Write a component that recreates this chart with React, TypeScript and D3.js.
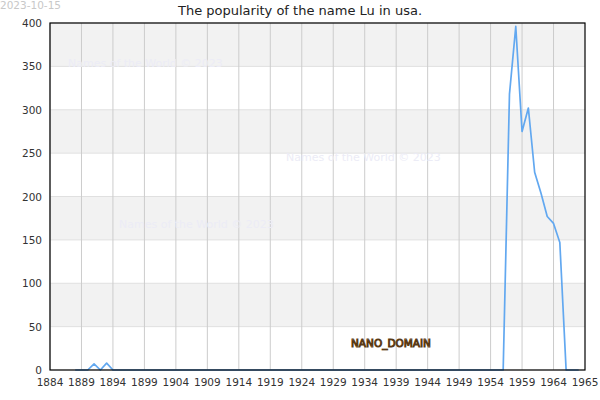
import * as d3 from "d3";

// Years 1888..1968, one value per year
const years: number[] = [
  1888, 1889, 1890, 1891, 1892, 1893, 1894, 1895, 1896, 1897, 1898, 1899,
  1900, 1901, 1902, 1903, 1904, 1905, 1906, 1907, 1908, 1909, 1910, 1911,
  1912, 1913, 1914, 1915, 1916, 1917, 1918, 1919, 1920, 1921, 1922, 1923,
  1924, 1925, 1926, 1927, 1928, 1929, 1930, 1931, 1932, 1933, 1934, 1935,
  1936, 1937, 1938, 1939, 1940, 1941, 1942, 1943, 1944, 1945, 1946, 1947,
  1948, 1949, 1950, 1951, 1952, 1953, 1954, 1955, 1956, 1957, 1958, 1959,
  1960, 1961, 1962, 1963, 1964, 1965, 1966, 1967, 1968,
];
const counts: number[] = [
  0, 0, 0, 7, 0, 8, 0, 0, 0, 0, 0, 0,
  0, 0, 0, 0, 0, 0, 0, 0, 0, 0, 0, 0,
  0, 0, 0, 0, 0, 0, 0, 0, 0, 0, 0, 0,
  0, 0, 0, 0, 0, 0, 0, 0, 0, 0, 0, 0,
  0, 0, 0, 0, 0, 0, 0, 0, 0, 0, 0, 0,
  0, 0, 0, 0, 0, 0, 0, 0, 0, 318, 396, 275,
  302, 228, 204, 177, 169, 147, 0, 0, 0,
];
const xTickYears: number[] = [
  1884, 1889, 1894, 1899, 1904, 1909, 1914, 1919, 1924, 1929, 1934, 1939,
  1944, 1949, 1954, 1959, 1964,
];
const xEndLabel = "1965";
const yTicks: number[] = [0, 50, 100, 150, 200, 250, 300, 350, 400];
const title = "The popularity of the name Lu in usa.";
const dateLabel = "2023-10-15";
const watermark = "Names of the World © 2023";

export default function App() {
  const width = 600;
  const height = 400;
  const margin = { top: 23, right: 15, bottom: 30, left: 50 };
  const font = "DejaVu Sans, sans-serif";

  const x = d3
    .scaleLinear()
    .domain([1884, 1969])
    .range([margin.left, width - margin.right]);
  const y = d3
    .scaleLinear()
    .domain([0, 400])
    .range([height - margin.bottom, margin.top]);

  const data = years.map((yr, i) => ({ year: yr, value: counts[i] }));
  const line = d3
    .line<{ year: number; value: number }>()
    .x((d) => x(d.year))
    .y((d) => y(d.value));

  const bands = yTicks.slice(0, -1).map((v, i) => ({ lo: v, hi: yTicks[i + 1], i }));

  return (
    <svg
      width={width}
      height={height}
      style={{ position: "absolute", left: 0, top: 0, fontFamily: font }}
    >
      <rect x={0} y={0} width={width} height={height} fill="#fff" />
      {bands.map((b) => (
        <rect
          key={b.lo}
          x={x(1884)}
          y={y(b.hi)}
          width={x(1969) - x(1884)}
          height={y(b.lo) - y(b.hi)}
          fill={b.i % 2 === 1 ? "#f2f2f2" : "#fff"}
        />
      ))}
      {yTicks.map((v) => (
        <line
          key={"h" + v}
          x1={x(1884)}
          x2={x(1969)}
          y1={y(v)}
          y2={y(v)}
          stroke="#e0e0e0"
          strokeWidth={1}
        />
      ))}
      {xTickYears.map((yr) => (
        <line
          key={"v" + yr}
          x1={x(yr)}
          x2={x(yr)}
          y1={y(0)}
          y2={y(400)}
          stroke="#cccccc"
          strokeWidth={1}
        />
      ))}
      <text x={68} y={67} fontSize={11} fill="#ececf6">{watermark}</text>
      <text x={286} y={161} fontSize={11} fill="#ececf6">{watermark}</text>
      <text x={119} y={228} fontSize={11} fill="#ececf6">{watermark}</text>

      <path
        d={line(data) ?? ""}
        fill="none"
        stroke="#62a8f0"
        strokeWidth={1.7}
        strokeLinejoin="round"
      />

      <rect
        x={x(1884)}
        y={y(400)}
        width={x(1969) - x(1884)}
        height={y(0) - y(400)}
        fill="none"
        stroke="#000"
        strokeWidth={1.2}
      />

      {yTicks.map((v) => (
        <text
          key={"yl" + v}
          x={x(1884) - 8}
          y={y(v) + 4}
          textAnchor="end"
          fontSize={10.5}
          fill="#333"
        >
          {v}
        </text>
      ))}
      {xTickYears.map((yr) => (
        <text
          key={"xl" + yr}
          x={x(yr)}
          y={y(0) + 16}
          textAnchor="middle"
          fontSize={10.5}
          fill="#333"
        >
          {yr}
        </text>
      ))}
      <text x={x(1969)} y={y(0) + 16} textAnchor="middle" fontSize={10.5} fill="#333">
        {xEndLabel}
      </text>

      <text x={300} y={15} textAnchor="middle" fontSize={13} fill="#222">
        {title}
      </text>
      <text x={0} y={9} fontSize={10.5} fill="#c8c8c8">{dateLabel}</text>

      <text
        x={391}
        y={347}
        textAnchor="middle"
        fontSize={10.5}
        fill="#f3e3c3"
        stroke="#5a3a14"
        strokeWidth={1}
      >
        NANO_DOMAIN
      </text>
    </svg>
  );
}
